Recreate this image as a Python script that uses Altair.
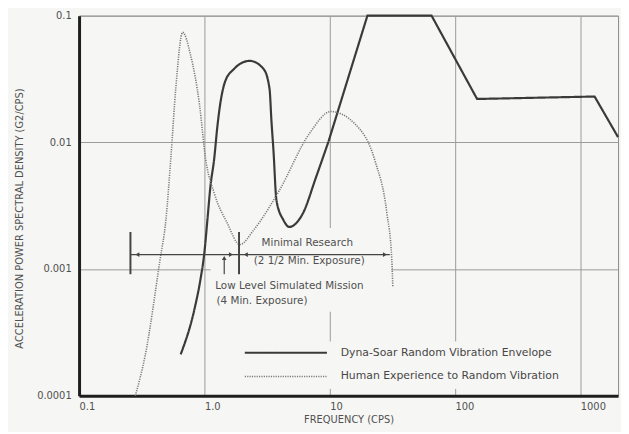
import altair as alt
import pandas as pd

# ---------------- data ----------------
series_names = ["Dyna-Soar Random Vibration Envelope",
                "Human Experience to Random Vibration"]

# Dyna-Soar envelope: curved low-frequency part
dyna_curve_freq = [0.647, 0.834, 0.931, 1.0, 1.057, 1.115, 1.2, 1.265, 1.336, 1.46,
                   1.72, 2.0, 2.3, 2.97, 3.31, 3.43, 3.56, 3.76, 4.27, 4.75, 6.12, 7.76, 9.8]
dyna_curve_psd = [0.000212, 0.000484, 0.00083, 0.00135, 0.00244, 0.0044, 0.00755, 0.0129,
                  0.0199, 0.030, 0.0379, 0.0425, 0.044, 0.0379, 0.0265, 0.0147, 0.00855,
                  0.00348, 0.00244, 0.00215, 0.00276, 0.00527, 0.0102]
# Dyna-Soar envelope: straight-line high-frequency part
dyna_line_freq = [9.8, 20, 65, 150, 1300, 2000]
dyna_line_psd = [0.0102, 0.1, 0.1, 0.022, 0.023, 0.011]

# Human experience to random vibration (dotted)
human_freq = [0.281, 0.337, 0.443, 0.493, 0.540, 0.591, 0.671, 0.776, 0.914, 1.02, 1.2,
              1.52, 1.92, 2.48, 3.96, 6.84, 10.2, 16, 23, 28.6, 31.3, 31.9]
human_psd = [0.0001, 0.000208, 0.00119, 0.00244, 0.00755, 0.0265, 0.0738, 0.0488, 0.0199,
             0.00755, 0.00395, 0.00231, 0.00156, 0.00204, 0.00417, 0.0116, 0.0175, 0.0139,
             0.00714, 0.00276, 0.00119, 0.00073]

x_ticks = [0.1, 1, 10, 100, 1000]
x_tick_labels = ["0.1", "1.0", "10", "100", "1000"]
y_ticks = [0.0001, 0.001, 0.01, 0.1]
y_tick_labels = ["0.0001", "0.001", "0.01", "0.1"]

# annotation: exposure ranges (frequency limits) and their level
range_freq_lo = [0.257, 1.89]
range_freq_hi = [1.89, 30.2]
range_level = [0.0013, 0.0013]
bracket_freq = [0.257, 1.89]
bracket_lo = [0.00091, 0.00091]
bracket_hi = [0.00196, 0.00196]
pointer_freq = [1.44]
pointer_lo = [0.00091]
pointer_hi = [0.00122]
arrow_freq = [0.292, 1.63, 2.14, 27.6, 1.44]
arrow_psd = [0.0013, 0.0013, 0.0013, 0.0013, 0.00122]
arrow_shape = ["triangle-left", "triangle-right", "triangle-left", "triangle-right", "triangle-up"]
note_text = ["Minimal Research", "(2 1/2 Min. Exposure)",
             "Low Level Simulated Mission", "(4 Min. Exposure)"]
note_freq = [2.86, 2.48, 1.22, 1.25]
note_psd = [0.00161, 0.00115, 0.00073, 0.000558]
clear_box = {"f1": 1.12, "f2": 31.0, "p1": 0.00046, "p2": 0.00211}

# ---------------- tables ----------------
dyna_curve = pd.DataFrame({"freq": dyna_curve_freq, "psd": dyna_curve_psd, "series": series_names[0]})
dyna_line = pd.DataFrame({"freq": dyna_line_freq, "psd": dyna_line_psd, "series": series_names[0]})
human = pd.DataFrame({"freq": human_freq, "psd": human_psd, "series": series_names[1]})
ranges = pd.DataFrame({"f1": range_freq_lo, "f2": range_freq_hi, "p": range_level})
brackets = pd.DataFrame({"f": bracket_freq, "p1": bracket_lo, "p2": bracket_hi})
pointer = pd.DataFrame({"f": pointer_freq, "p1": pointer_lo, "p2": pointer_hi})
arrows = pd.DataFrame({"f": arrow_freq, "p": arrow_psd, "shape": arrow_shape})
notes = pd.DataFrame({"f": note_freq, "p": note_psd, "text": note_text})
clear = pd.DataFrame([clear_box])

BG = "#f6f6f4"
INK = "#444444"
FONT = "DejaVu Sans"


def label_expr(values, labels):
    expr = "''"
    for v, l in reversed(list(zip(values, labels))):
        expr = f"abs(datum.value - {v}) < {v} * 0.01 ? '{l}' : " + expr
    return expr


x_scale = alt.Scale(type="log", domain=[0.1, 2000], nice=False)
y_scale = alt.Scale(type="log", domain=[0.0001, 0.1], nice=False)

x_axis = alt.Axis(values=x_ticks, labelExpr=label_expr(x_ticks, x_tick_labels),
                  title="FREQUENCY (CPS)", grid=True, ticks=False, labelAlign="left",
                  labelPadding=6, labelFlush=False, titlePadding=3)
y_axis = alt.Axis(values=y_ticks, labelExpr=label_expr(y_ticks, y_tick_labels),
                  title="ACCELERATION POWER SPECTRAL DENSITY (G2/CPS)", grid=True, ticks=False,
                  labelPadding=8, labelFlush=False, titlePadding=12, titleY=205)

X = alt.X("freq:Q", scale=x_scale, axis=x_axis)
Y = alt.Y("psd:Q", scale=y_scale, axis=y_axis)

legend = alt.Legend(title=None, orient="none", legendX=198, legendY=330)
color = alt.Color("series:N", scale=alt.Scale(domain=series_names, range=["#3a3a3a", "#7a7a7a"]),
                  legend=legend)
dash = alt.StrokeDash("series:N", scale=alt.Scale(domain=series_names, range=[[1, 0], [1.2, 1.2]]),
                      legend=legend)
width = alt.StrokeWidth("series:N", scale=alt.Scale(domain=series_names, range=[2.2, 1.6]), legend=None)

clear_layer = alt.Chart(clear).mark_rect(color=BG).encode(
    x=alt.X("f1:Q", scale=x_scale, axis=x_axis), x2="f2:Q",
    y=alt.Y("p1:Q", scale=y_scale, axis=y_axis), y2="p2:Q")

curve1 = alt.Chart(dyna_curve).mark_line(interpolate="monotone").encode(
    x=X, y=Y, color=color, strokeDash=dash, strokeWidth=width)
curve2 = alt.Chart(dyna_line).mark_line(interpolate="linear").encode(
    x=X, y=Y, color=color, strokeDash=dash, strokeWidth=width)
curve3 = alt.Chart(human).mark_line(interpolate="monotone").encode(
    x=X, y=Y, color=color, strokeDash=dash, strokeWidth=width)

range_layer = alt.Chart(ranges).mark_rule(color=INK, strokeWidth=1.3).encode(
    x=alt.X("f1:Q", scale=x_scale, axis=x_axis), x2="f2:Q",
    y=alt.Y("p:Q", scale=y_scale, axis=y_axis))
bracket_layer = alt.Chart(brackets).mark_rule(color=INK, strokeWidth=2).encode(
    x=alt.X("f:Q", scale=x_scale, axis=x_axis),
    y=alt.Y("p1:Q", scale=y_scale, axis=y_axis), y2="p2:Q")
pointer_layer = alt.Chart(pointer).mark_rule(color=INK, strokeWidth=1.2).encode(
    x=alt.X("f:Q", scale=x_scale, axis=x_axis),
    y=alt.Y("p1:Q", scale=y_scale, axis=y_axis), y2="p2:Q")
arrow_layer = alt.Chart(arrows).mark_point(filled=True, color=INK, size=22, opacity=1).encode(
    x=alt.X("f:Q", scale=x_scale, axis=x_axis),
    y=alt.Y("p:Q", scale=y_scale, axis=y_axis),
    shape=alt.Shape("shape:N", scale=None))
note_layer = alt.Chart(notes).mark_text(align="left", baseline="middle", font=FONT,
                                         fontSize=10.5, color="#505050").encode(
    x=alt.X("f:Q", scale=x_scale, axis=x_axis),
    y=alt.Y("p:Q", scale=y_scale, axis=y_axis),
    text="text:N")

chart = alt.layer(
    clear_layer, curve1, curve2, curve3, range_layer, bracket_layer, pointer_layer,
    arrow_layer, note_layer
).properties(
    width=546, height=385,
    autosize=alt.AutoSizeParams(type="none"),
    padding={"left": 72, "top": 5, "right": 3, "bottom": 34},
    background=BG,
).configure_view(
    stroke="#8a8a8a", strokeWidth=1
).configure_axis(
    gridColor="#9a9a9a", gridWidth=1, gridOpacity=1,
    domainColor="#1e1e1e", domainWidth=3,
    labelFont=FONT, labelFontSize=10, labelColor="#505050",
    titleFont=FONT, titleFontSize=10, titleFontWeight="normal", titleColor="#505050",
).configure_legend(
    symbolType="M-10.4,0H10.4", symbolSize=64, symbolStrokeWidth=2,
    labelOffset=50, labelFont=FONT, labelFontSize=11, labelColor="#474747",
    labelLimit=400, rowPadding=12, padding=6, fillColor=BG, strokeColor=BG,
)

chart.save("out.html", embed_options={"renderer": "svg", "actions": False})
